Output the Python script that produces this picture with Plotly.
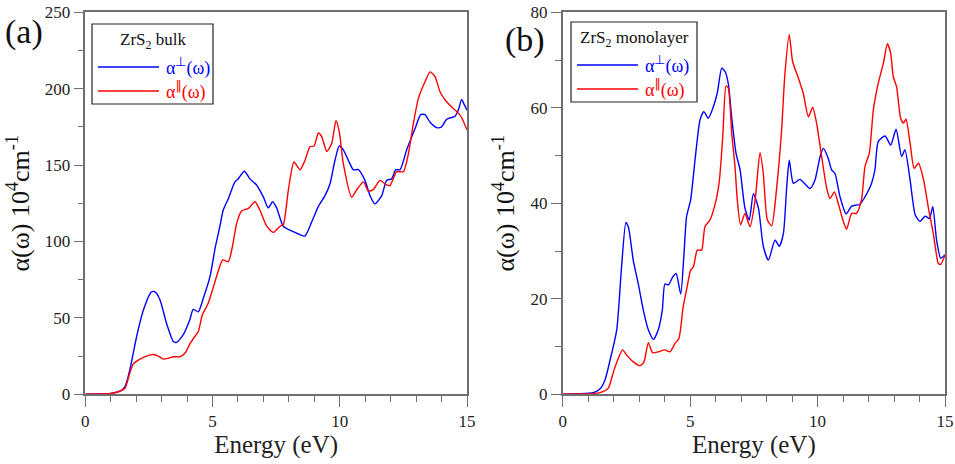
import plotly.graph_objects as go

# ---------------- data ----------------
bulk_E_perp = [0, 0.5, 1.0, 1.36, 1.56, 1.75, 2.02, 2.28, 2.6, 2.74, 2.93, 3.2, 3.46, 3.59, 3.85, 4.11, 4.24,
               4.44, 4.64, 4.9, 5.1, 5.29, 5.42, 5.62, 5.88, 6.01, 6.25, 6.47, 6.73, 7.0, 7.19, 7.36, 7.52,
               7.78, 8.17, 8.63, 8.9, 9.16, 9.42, 9.62, 9.81, 9.98, 10.14, 10.34, 10.53, 10.73, 10.99,
               11.19, 11.38, 11.65, 11.84, 12.04, 12.2, 12.37, 12.63, 12.96, 13.18, 13.35, 13.55, 13.81,
               14.0, 14.2, 14.53, 14.66, 14.79, 14.88, 15.0]
bulk_perp = [0, 0.2, 0.6, 2, 5, 16, 38, 55, 67, 67, 62, 46, 34.5, 34, 39, 49, 55.6,
             54, 63, 77, 95.5, 110, 120.6, 128, 139, 141, 146, 141, 137, 129, 122, 126, 122,
             110, 106.5, 103.6, 113, 123, 130, 138, 153, 162.5, 160, 153, 147, 147, 140,
             130, 124.6, 130, 140, 141, 147, 147, 160, 174, 183, 183, 178, 174.5,
             175, 180, 182, 186, 193, 190, 186]

bulk_E_par = [0, 0.5, 1.0, 1.36, 1.56, 1.75, 1.89, 2.15, 2.41, 2.67, 2.87, 3.07, 3.26, 3.46, 3.72, 3.92, 4.11,
              4.31, 4.44, 4.6, 4.83, 5.03, 5.23, 5.4, 5.62, 5.78, 5.95, 6.14, 6.41, 6.67, 6.86, 7.13,
              7.39, 7.65, 7.78, 7.98, 8.2, 8.44, 8.63, 8.83, 8.99, 9.16, 9.29, 9.49, 9.68, 9.85, 9.98,
              10.14, 10.47, 10.66, 10.93, 11.12, 11.32, 11.58, 11.84, 11.97, 12.24, 12.5, 12.7, 12.89,
              13.09, 13.35, 13.55, 13.74, 13.94, 14.14, 14.4, 14.66, 14.79, 15.0]
bulk_par = [0, 0.2, 0.6, 2, 4, 14, 20, 23, 25, 26, 25, 23, 23.6, 24.6, 24.6, 27, 33,
            38, 41, 52, 59.6, 70, 81, 88, 86.8, 96.6, 112, 120, 121.7, 126, 120.6, 110,
            106, 110, 111, 133.7, 152, 147, 153, 162, 162.5, 171, 168.6, 159, 164, 179, 172,
            151, 129, 133.7, 139, 133, 134, 140, 137, 136.6, 145.7, 145.7, 157.7, 177,
            193.7, 204.6, 211, 208, 198, 192.6, 188, 184, 181, 173]

mono_E_perp = [0, 0.6, 1.2, 1.46, 1.66, 1.86, 2.12, 2.31, 2.48, 2.58, 2.77, 2.97, 3.16, 3.36, 3.56, 3.75,
               3.91, 4.01, 4.15, 4.32, 4.45, 4.63, 4.76, 4.86, 5.02, 5.19, 5.39, 5.54, 5.71, 5.91, 6.07,
               6.24, 6.37, 6.5, 6.63, 6.8, 6.96, 7.15, 7.32, 7.48, 7.68, 7.87, 8.07, 8.33, 8.5, 8.66,
               8.79, 8.89, 9.05, 9.31, 9.7, 9.9, 10.1, 10.23, 10.42, 10.55, 10.68, 10.88, 11.12, 11.34,
               11.66, 11.93, 12.12, 12.25, 12.38, 12.65, 12.87, 13.08, 13.3, 13.43, 13.63, 13.83, 14.02,
               14.22, 14.39, 14.52, 14.67, 14.83, 15.0]
mono_perp = [0, 0.1, 0.35, 1.1, 3, 7.2, 13.5, 26.7, 36, 35, 28, 23, 17.7, 13.5, 11.5, 13.5,
             17.7, 23.1, 22.9, 24.6, 25.3, 21, 29.5, 37.2, 40.7, 49, 57.5, 59.2, 57.8, 60.2, 63.2,
             68.3, 67.6, 65, 58, 50.5, 47, 39, 36.5, 42, 39, 31, 28.1, 32.3, 31, 33.7,
             43.5, 49, 44.2, 45, 43.1, 44.9, 49.8, 51.5, 49.4, 47, 46.3, 41.4, 37.8, 39.4,
             39.8, 42, 44.2, 47, 52.9, 54.1, 52.2, 55.5, 49.8, 51.2, 44.9, 37.6, 36.2,
             37.3, 36.8, 39.3, 32.3, 28.5, 29.2]

mono_E_par = [0, 0.6, 1.2, 1.46, 1.79, 1.99, 2.18, 2.35, 2.51, 2.77, 3.03, 3.19, 3.36, 3.53, 3.75, 4.01,
              4.21, 4.41, 4.56, 4.73, 4.86, 5.02, 5.13, 5.28, 5.45, 5.58, 5.78, 6.02, 6.15, 6.28, 6.41,
              6.5, 6.63, 6.76, 6.85, 6.98, 7.15, 7.35, 7.55, 7.74, 7.87, 8.03, 8.2, 8.4, 8.59, 8.72,
              8.89, 9.02, 9.25, 9.44, 9.64, 9.81, 9.96, 10.16, 10.36, 10.49, 10.66, 10.81, 11.01, 11.14,
              11.34, 11.53, 11.73, 11.86, 12.03, 12.19, 12.38, 12.58, 12.74, 12.87, 12.97, 13.1, 13.26,
              13.37, 13.47, 13.63, 13.79, 13.96, 14.16, 14.35, 14.54, 14.74, 14.83, 15.0]
mono_par = [0, 0.05, 0.15, 0.35, 1.3, 4.7, 7.5, 9.3, 8.2, 6.8, 6, 6.8, 10.8, 8.7, 8.9, 9.3,
            8.9, 10.7, 11.7, 18.4, 21.9, 26, 26.7, 30.2, 30.2, 35.1, 36.5, 40.7, 44.9, 54, 64.6,
            64.1, 54.7, 47.7, 40.7, 35.5, 37.9, 35.1, 40.7, 50.6, 46.3, 36.5, 35.3, 43.5, 55.4, 67.2,
            75.3, 69.7, 66.2, 63, 58.1, 60.1, 56.8, 49.8, 43.1, 41, 42.4, 40, 36.2, 34.6,
            37.9, 37.9, 41, 47.7, 50.5, 59.6, 65.1, 69.3, 73.4, 71.4, 66.5, 64.4, 57.8,
            56.8, 57.6, 52.6, 47.3, 48.4, 44.9, 39, 33.7, 27.4, 27.2, 29.2]

x_ticks = [0, 5, 10, 15]
bulk_y_ticks = [0, 50, 100, 150, 200, 250]
mono_y_ticks = [0, 20, 40, 60, 80]

BLUE = "#0000ff"
RED = "#ff0000"
AXC = "#6f6f6f"
FONT = "Liberation Serif"

fig = go.Figure()

line_kw = dict(width=1.4, shape="spline", smoothing=0.6)
fig.add_trace(go.Scatter(x=bulk_E_perp, y=bulk_perp, mode="lines", line=dict(color=BLUE, **line_kw),
                         xaxis="x", yaxis="y", showlegend=False))
fig.add_trace(go.Scatter(x=bulk_E_par, y=bulk_par, mode="lines", line=dict(color=RED, **line_kw),
                         xaxis="x", yaxis="y", showlegend=False))
fig.add_trace(go.Scatter(x=mono_E_perp, y=mono_perp, mode="lines", line=dict(color=BLUE, **line_kw),
                         xaxis="x2", yaxis="y2", showlegend=False))
fig.add_trace(go.Scatter(x=mono_E_par, y=mono_par, mode="lines", line=dict(color=RED, **line_kw),
                         xaxis="x2", yaxis="y2", showlegend=False))

W, H = 955, 464
def px(x):
    return x / W
def py(y):
    return 1 - y / H

ydom = [py(394.3), py(12.3)]

def xaxis(dom, anchor):
    return dict(domain=dom, anchor=anchor, range=[0, 15], tickvals=x_ticks, ticktext=[str(v) for v in x_ticks],
                automargin=False,
                showline=True, linecolor=AXC, linewidth=1.5, mirror=True, ticks="outside", ticklen=11,
                tickcolor=AXC, tickwidth=1, showgrid=False, zeroline=False,
                minor=dict(dtick=1, ticks="outside", ticklen=6, tickcolor=AXC, tickwidth=1, showgrid=False),
                tickfont=dict(family=FONT, size=17, color="#222"),
                title=dict(text="Energy (eV)", font=dict(family=FONT, size=25, color="#222"), standoff=4))

def yaxis(anchor, rng, ticks, minor):
    return dict(domain=ydom, anchor=anchor, range=rng, tickvals=ticks, ticktext=[str(v) for v in ticks],
                automargin=False,
                showline=True, linecolor=AXC, linewidth=1.5, mirror=True, ticks="outside", ticklen=10,
                tickcolor=AXC, tickwidth=1, showgrid=False, zeroline=False,
                minor=dict(dtick=minor, ticks="outside", ticklen=6, tickcolor=AXC, tickwidth=1, showgrid=False),
                tickfont=dict(family=FONT, size=17, color="#222"),
                title=dict(text="α(ω) 10<sup>4</sup>cm<sup>-1</sup>", font=dict(family=FONT, size=26, color="#111"), standoff=8))

fig.update_layout(
    width=W, height=H, margin=dict(l=0, r=0, t=0, b=0),
    paper_bgcolor="white", plot_bgcolor="white",
    xaxis=xaxis([px(85.3), px(467)], "y"),
    yaxis=yaxis("x", [0, 250], bulk_y_ticks, 25),
    xaxis2=xaxis([px(562.7), px(945)], "y2"),
    yaxis2=yaxis("x2", [0, 80], mono_y_ticks, 10),
)

shapes = []
annos = []

PAR = "<span style='font-family:DejaVu Sans'>‖</span>"

def legend(x0, y0, x1, y1, title):
    shapes.append(dict(type="rect", xref="paper", yref="paper", x0=px(x0), x1=px(x1), y0=py(y1), y1=py(y0),
                       line=dict(color="#222", width=1.2), fillcolor="white", layer="above"))
    annos.append(dict(xref="paper", yref="paper", x=px((x0 + x1) / 2), y=py(y0 + 17), text=title, showarrow=False,
                      font=dict(family=FONT, size=17, color="#111"), xanchor="center", yanchor="middle"))
    for i, (col, lab) in enumerate([(BLUE, "α<sup>⊥</sup>(ω)"), (RED, "α<sup>" + PAR + "</sup>(ω)")]):
        yy = y0 + 43 + 24 * i
        shapes.append(dict(type="line", xref="paper", yref="paper", x0=px(x0 + 6), x1=px(x0 + 67), y0=py(yy), y1=py(yy),
                           line=dict(color=col, width=1.5), layer="above"))
        annos.append(dict(xref="paper", yref="paper", x=px(x0 + 72), y=py(yy), text=lab, showarrow=False,
                          font=dict(family=FONT, size=18, color=col), xanchor="left", yanchor="middle"))

legend(92, 24, 213, 104, "ZrS<sub>2</sub> bulk")
legend(571, 22, 697, 102, "ZrS<sub>2</sub> monolayer")

annos.append(dict(xref="paper", yref="paper", x=px(3), y=py(32), text="(a)", showarrow=False,
                  font=dict(family=FONT, size=34, color="#111"), xanchor="left", yanchor="middle"))
annos.append(dict(xref="paper", yref="paper", x=px(503), y=py(40), text="(b)", showarrow=False,
                  font=dict(family=FONT, size=34, color="#111"), xanchor="left", yanchor="middle"))

fig.update_layout(shapes=shapes, annotations=annos)
fig.write_html("out.html", config={"displayModeBar": False},
               post_script="document.body.style.margin='0';document.body.style.overflow='hidden';")
